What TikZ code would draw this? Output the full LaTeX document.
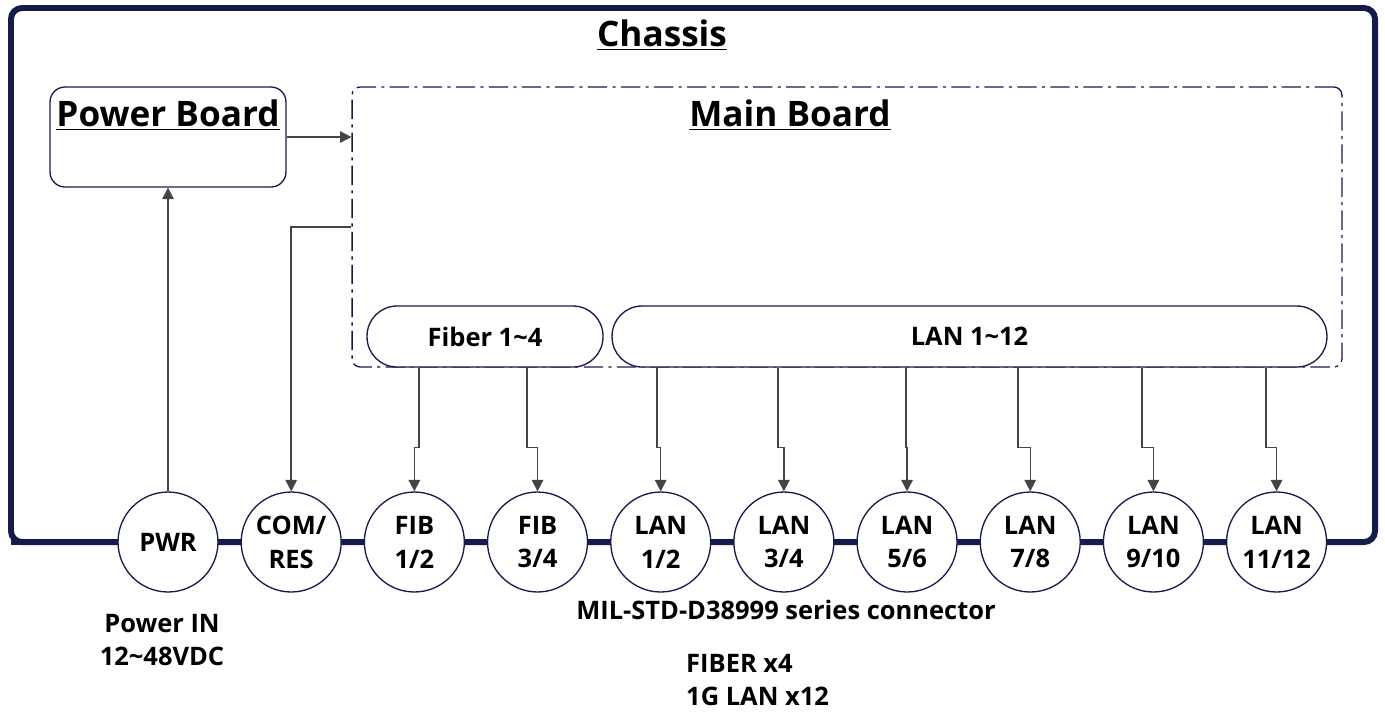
\documentclass[tikz,border=0pt]{standalone}
\usepackage{fontspec}
\setmainfont{Open Sans}
\usetikzlibrary{arrows.meta}

\definecolor{navy}{HTML}{151B4A}
\definecolor{wire}{HTML}{444444}
\newcommand{\labelfont}{\fontsize{14.5}{19.3}\selectfont\bfseries}
\newcommand{\titlefont}{\fontsize{20}{26}\selectfont\bfseries}

\begin{document}
\begin{tikzpicture}[x=0.02cm, y=-0.02cm, node distance=2.464cm,
    port/.style={circle, draw=navy, line width=0.75pt, fill=white, minimum size=2cm, inner sep=0pt, align=center, font=\labelfont},
    pill/.style={rectangle, rounded corners=0.6cm, draw=navy, line width=0.75pt, fill=white, minimum height=1.22cm, font=\labelfont},
    board/.style={rectangle, draw=navy, line width=0.75pt},
    link/.style={draw=wire, line width=0.85pt, -{Triangle[length=6.5pt,width=6.5pt]}}]
        \useasboundingbox (0,0) rectangle (1385,711);

        % Le chassis
        \draw[navy, line width=3.4pt, rounded corners=0.22cm] (11,8) rectangle (1375,542);
        \node (chassis) at (662,35) {\titlefont\underline{Chassis}};

        % Les cartes
        \node (pb) [board, rounded corners=0.3cm, minimum width=4.72cm, minimum height=2cm] at (168,137) {};
        \node (pbtitle) at (168,115) {\titlefont\underline{Power Board}};
        \node (mb) [board, rounded corners=0.16cm, dash pattern=on 11pt off 3pt on 1.8pt off 3pt, minimum width=19.8cm, minimum height=5.6cm] at (847,227) {};
        \node (mbtitle) at (790,115) {\titlefont\underline{Main Board}};
        \node (fib) [pill, minimum width=4.72cm] at (485,336.5) {Fiber 1\textasciitilde4};
        \node (lan) [pill, minimum width=14.3cm] at (969.5,336.5) {LAN 1\textasciitilde12};

        % Les connecteurs
        \draw[navy, line width=3.4pt] (11,542) -- (1300,542);
        \node (pwr) [port] at (168,542) {PWR};
        \node (com) [port, right of=pwr] {COM/\\RES};
        \node (fib12) [port, right of=com] {FIB\\1/2};
        \node (fib34) [port, right of=fib12] {FIB\\3/4};
        \node (lan12) [port, right of=fib34] {LAN\\1/2};
        \node (lan34) [port, right of=lan12] {LAN\\3/4};
        \node (lan56) [port, right of=lan34] {LAN\\5/6};
        \node (lan78) [port, right of=lan56] {LAN\\7/8};
        \node (lan910) [port, right of=lan78] {LAN\\9/10};
        \node (lan1112) [port, right of=lan910] {LAN\\11/12};

        % Les liaisons
        \draw[link] (pwr) -- (pb);
        \draw[link] (pb.east) -- (pb.east -| mb.west);
        \draw[link] (mb.west) -| (com.north);
        \draw[link] ([xshift=-1.32cm]fib.south) -- ++(0,80) -| (fib12.north);
        \draw[link] ([xshift=0.84cm]fib.south) -- ++(0,80) -| (fib34.north);
        \foreach \dx/\port in {-6.25/lan12, -3.83/lan34, -1.27/lan56, 0.97/lan78, 3.45/lan910, 5.93/lan1112}
            \draw[link] ([xshift=\dx cm]lan.south) -- ++(0,80) -| (\port.north);

        % Les textes
        \node (pwrin) [align=center, font=\labelfont] at (162,640) {Power IN\\12\textasciitilde48VDC};
        \node (mil) [font=\labelfont] at (786,610) {MIL-STD-D38999 series connector};
        \node (ports) [anchor=west, align=left, font=\labelfont] at (680,680) {FIBER x4\\1G LAN x12};
    \end{tikzpicture}
\end{document}
